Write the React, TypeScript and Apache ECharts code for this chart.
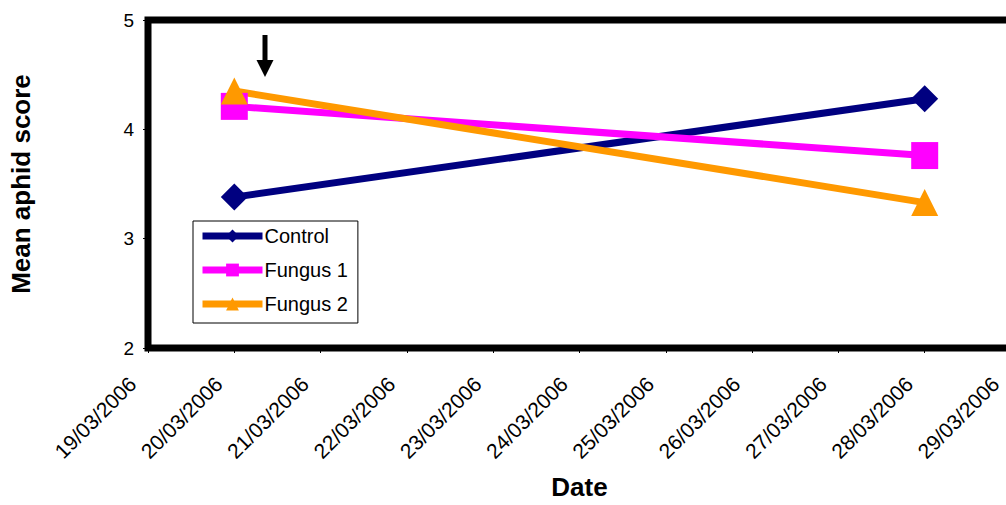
import React, { useEffect, useRef } from "react";
import * as echarts from "echarts";

const dateLabels = [
  "19/03/2006", "20/03/2006", "21/03/2006", "22/03/2006", "23/03/2006", "24/03/2006",
  "25/03/2006", "26/03/2006", "27/03/2006", "28/03/2006", "29/03/2006",
];
const sampleDates = ["20/03/2006", "28/03/2006"];
const controlValues = [3.38, 4.28];
const fungus1Values = [4.21, 3.76];
const fungus2Values = [4.35, 3.33];
const yTicks = { min: 2, max: 5, interval: 1 };

const FONT = "Liberation Sans, Arial, sans-serif";

function pairs(vals: number[]) {
  return sampleDates.map((d, i) => [d, vals[i]]);
}

export default function App() {
  const ref = useRef<HTMLDivElement>(null);
  useEffect(() => {
    if (!ref.current) return;
    const chart = echarts.init(ref.current, undefined, { renderer: "svg" });
    const mk = (name: string, color: string, symbol: string, vals: number[]) => ({
      name,
      type: "line",
      data: pairs(vals),
      connectNulls: true,
      symbol,
      symbolSize: 27,
      showSymbol: true,
      lineStyle: { color, width: 7 },
      itemStyle: { color, borderWidth: 0 },
      emphasis: { disabled: true },
    });
    chart.setOption({
      animation: false,
      backgroundColor: "#ffffff",
      textStyle: { fontFamily: FONT },
      grid: {
        left: 147,
        top: 20,
        bottom: 155,
        right: 1,
        show: true,
        borderColor: "#000",
        borderWidth: 7,
        backgroundColor: "transparent",
        containLabel: false,
      },
      legend: {
        orient: "vertical",
        left: 193,
        top: 221,
        padding: [5, 10, 9, 6],
        itemWidth: 60,
        itemHeight: 16,
        itemGap: 14,
        backgroundColor: "#fff",
        borderColor: "#000",
        borderWidth: 1,
        borderRadius: 0,
        lineStyle: { width: 7 },
        textStyle: { fontFamily: FONT, fontSize: 20, color: "#000", padding: [0, 0, 0, -3] },
        data: ["Control", "Fungus 1", "Fungus 2"],
      },
      xAxis: {
        type: "category",
        data: dateLabels,
        boundaryGap: false,
        name: "Date",
        nameLocation: "middle",
        nameGap: 126,
        nameTextStyle: { fontFamily: FONT, fontSize: 26, fontWeight: "bold", color: "#000" },
        axisLine: { show: true, lineStyle: { color: "#000", width: 1 } },
        axisTick: { show: true, alignWithLabel: true, length: 5, lineStyle: { color: "#000", width: 1 } },
        axisLabel: {
          rotate: 45,
          margin: 17,
          padding: [0, 22, 0, 0],
          fontFamily: FONT,
          fontSize: 21,
          color: "#000",
          interval: 0,
        },
        splitLine: { show: false },
      },
      yAxis: {
        type: "value",
        min: yTicks.min,
        max: yTicks.max,
        interval: yTicks.interval,
        name: "Mean aphid score",
        nameLocation: "middle",
        nameGap: 114,
        nameTextStyle: { fontFamily: FONT, fontSize: 26, fontWeight: "bold", color: "#000" },
        axisLine: { show: true, lineStyle: { color: "#000", width: 1 } },
        axisTick: { show: true, length: 5, lineStyle: { color: "#000", width: 1 } },
        axisLabel: { margin: 14, fontFamily: FONT, fontSize: 19, color: "#000" },
        splitLine: { show: false },
      },
      graphic: [
        {
          type: "line",
          shape: { x1: 265, y1: 35, x2: 265, y2: 62 },
          style: { stroke: "#000", lineWidth: 5 },
          z: 100,
        },
        {
          type: "polygon",
          shape: { points: [[256.5, 60], [273.5, 60], [265, 77]] },
          style: { fill: "#000" },
          z: 100,
        },
      ],
      series: [
        mk("Control", "#000080", "diamond", controlValues),
        mk("Fungus 1", "#FF00FF", "rect", fungus1Values),
        mk("Fungus 2", "#FF9900", "triangle", fungus2Values),
      ],
    });
    return () => chart.dispose();
  }, []);
  return (
    <div
      style={{ position: "fixed", left: 0, top: 0, width: 1006, height: 505, overflow: "hidden", background: "#fff" }}
    >
      <div ref={ref} style={{ width: 1012, height: 505 }} />
    </div>
  );
}
